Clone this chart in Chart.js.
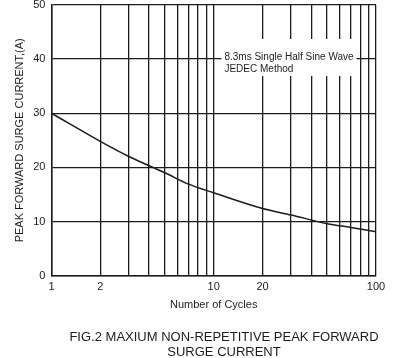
<!DOCTYPE html>
<html>
<head>
<meta charset="utf-8">
<script src="https://cdn.jsdelivr.net/npm/chart.js@4/dist/chart.umd.min.js"></script>
<style>
  html, body { margin: 0; padding: 0; background: #fff; }
  #wrap { width: 407px; height: 358px; }
</style>
</head>
<body>
<div id="wrap"><canvas id="surge"></canvas></div>
<script>
// values
var cycles = [1, 2, 3, 5, 7, 10, 20, 30, 50, 70, 100];
var surgeCurrent = [30, 24.8, 22.0, 19.0, 16.9, 15.3, 12.4, 11.2, 9.6, 8.9, 8.1];

// grid / tick positions
var xGrid = [1, 2, 3, 4, 5, 6, 7, 8, 9, 10, 20, 30, 40, 50, 60, 70, 80, 90, 100];
var xLabels = [1, 2, 10, 20, 100];
var yTicks = [0, 10, 20, 30, 40, 50];

var noteLines = ['8.3ms Single Half Sine Wave', 'JEDEC Method'];
var captionLines = ['FIG.2 MAXIUM NON-REPETITIVE PEAK FORWARD', 'SURGE CURRENT'];

var ink = '#1c1c1c';
var fontFam = '"Liberation Sans", Arial, sans-serif';

// white box with the test condition, plus the figure caption
var notePlugin = {
    id: 'notes',
    afterDatasetsDraw: function (chart) {
        var ctx = chart.ctx;
        var a = chart.chartArea;
        ctx.save();
        ctx.fillStyle = '#fff';
        ctx.fillRect(a.left + 170, a.top + 34, 135, 37);
        ctx.fillStyle = ink;
        ctx.font = '10px ' + fontFam;
        ctx.textBaseline = 'alphabetic';
        ctx.textAlign = 'left';
        ctx.fillText(noteLines[0], a.left + 173, a.top + 55);
        ctx.fillText(noteLines[1], a.left + 173, a.top + 67);

        ctx.font = '13px ' + fontFam;
        ctx.textAlign = 'center';
        ctx.fillText(captionLines[0], 224, 341);
        ctx.fillText(captionLines[1], 224, 356);
        ctx.restore();
    }
};

new Chart(document.getElementById('surge'), {
    type: 'line',
    data: {
        datasets: [{
            data: cycles.map(function (c, i) { return { x: c, y: surgeCurrent[i] }; }),
            borderColor: ink,
            borderWidth: 1.5,
            pointRadius: 0,
            fill: false,
            cubicInterpolationMode: 'monotone'
        }]
    },
    options: {
        responsive: true,
        maintainAspectRatio: false,
        animation: false,
        events: [],
        layout: { padding: { left: 13, right: 31, top: 5, bottom: 46 } },
        plugins: { legend: { display: false }, tooltip: { enabled: false } },
        scales: {
            x: {
                type: 'logarithmic',
                min: 1,
                max: 100,
                afterBuildTicks: function (scale) {
                    scale.ticks = xGrid.map(function (v) { return { value: v }; });
                },
                ticks: {
                    autoSkip: false,
                    maxRotation: 0,
                    padding: 5,
                    color: ink,
                    font: { family: fontFam, size: 11 },
                    callback: function (v) { return xLabels.indexOf(v) >= 0 ? String(v) : ''; }
                },
                grid: { color: ink, lineWidth: 1.3, drawTicks: false },
                border: { color: ink, width: 1.5 },
                title: {
                    display: true,
                    text: 'Number of Cycles',
                    color: ink,
                    font: { family: fontFam, size: 11 },
                    padding: { top: 0, bottom: 0 }
                }
            },
            y: {
                min: 0,
                max: 50,
                afterBuildTicks: function (scale) {
                    scale.ticks = yTicks.map(function (v) { return { value: v }; });
                },
                afterFit: function (scale) {
                    scale.paddingTop = 0;
                },
                ticks: {
                    padding: 6,
                    color: ink,
                    font: { family: fontFam, size: 11 }
                },
                grid: { color: ink, lineWidth: 1.3, drawTicks: false },
                border: { color: ink, width: 1.5 },
                title: {
                    display: true,
                    text: 'PEAK FORWARD SURGE CURRENT,(A)',
                    color: ink,
                    font: { family: fontFam, size: 11 },
                    padding: { top: 0, bottom: 1 }
                }
            }
        }
    },
    plugins: [notePlugin]
});
</script>
</body>
</html>
